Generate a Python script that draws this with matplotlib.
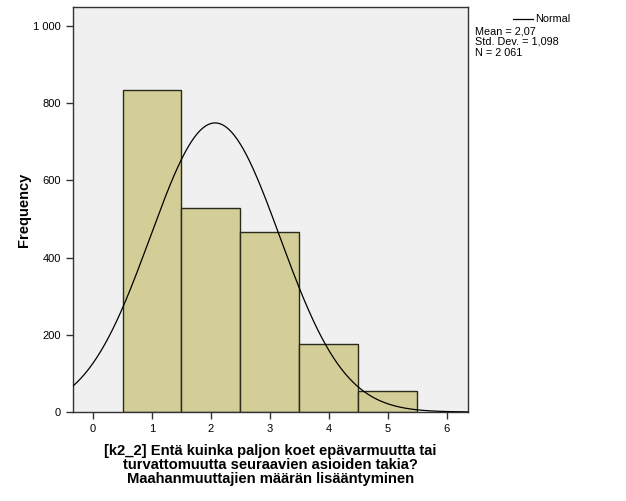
import numpy as np
import matplotlib
matplotlib.use("Agg")
import matplotlib.pyplot as plt

categories = [1, 2, 3, 4, 5]
counts = [835, 528, 466, 177, 55]
mean = 2.07
std = 1.098
n = 2061
xticks = [0, 1, 2, 3, 4, 5, 6]
yticks = [0, 200, 400, 600, 800, 1000]
ytick_labels = ["0", "200", "400", "600", "800", "1 000"]

plt.rcParams['font.family'] = ['Liberation Sans', 'DejaVu Sans']

fig = plt.figure(figsize=(6.26, 5.01), dpi=100)
ax = fig.add_axes([0.1166, 0.1776, 0.631, 0.8084])
ax.set_facecolor('#F0F0F0')

ax.bar(categories, counts, width=1.0, color='#D3CE97', edgecolor='#2A2A1A', linewidth=1.0, zorder=2)

xs = np.linspace(-0.34, 6.36, 400)
ys = n * 1.0 / (std * np.sqrt(2 * np.pi)) * np.exp(-0.5 * ((xs - mean) / std) ** 2)
ax.plot(xs, ys, color='black', linewidth=0.9, zorder=3)

ax.set_xlim(-0.34, 6.36)
ax.set_ylim(0, 1049)
ax.set_xticks(xticks)
ax.set_yticks(yticks)
ax.set_yticklabels(ytick_labels)
ax.tick_params(axis='both', direction='out', length=5, width=1, labelsize=8, color='#333333')
for s in ax.spines.values():
    s.set_color('#333333')
    s.set_linewidth(1.0)

ax.set_ylabel('Frequency', fontsize=10.5, fontweight='bold', labelpad=2)
ax.set_xlabel('[k2_2] Entä kuinka paljon koet epävarmuutta tai\nturvattomuutta seuraavien asioiden takia?\nMaahanmuuttajien määrän lisääntyminen',
              fontsize=10.6, fontweight='bold', linespacing=1.0, labelpad=7)

# legend / stats box
fig.lines.append(plt.Line2D([513/626, 533/626], [1 - 19/501, 1 - 19/501], transform=fig.transFigure, color='black', linewidth=0.9))
fig.text(535/626, 1 - 19/501, 'Normal', fontsize=7.8, va='center', ha='left')
fig.text(475/626, 1 - 31/501, 'Mean = 2,07', fontsize=7.8, va='center', ha='left')
fig.text(475/626, 1 - 42/501, 'Std. Dev. = 1,098', fontsize=7.8, va='center', ha='left')
fig.text(475/626, 1 - 53/501, 'N = 2 061', fontsize=7.8, va='center', ha='left')

fig.savefig('out.png', dpi=100, facecolor='white')
